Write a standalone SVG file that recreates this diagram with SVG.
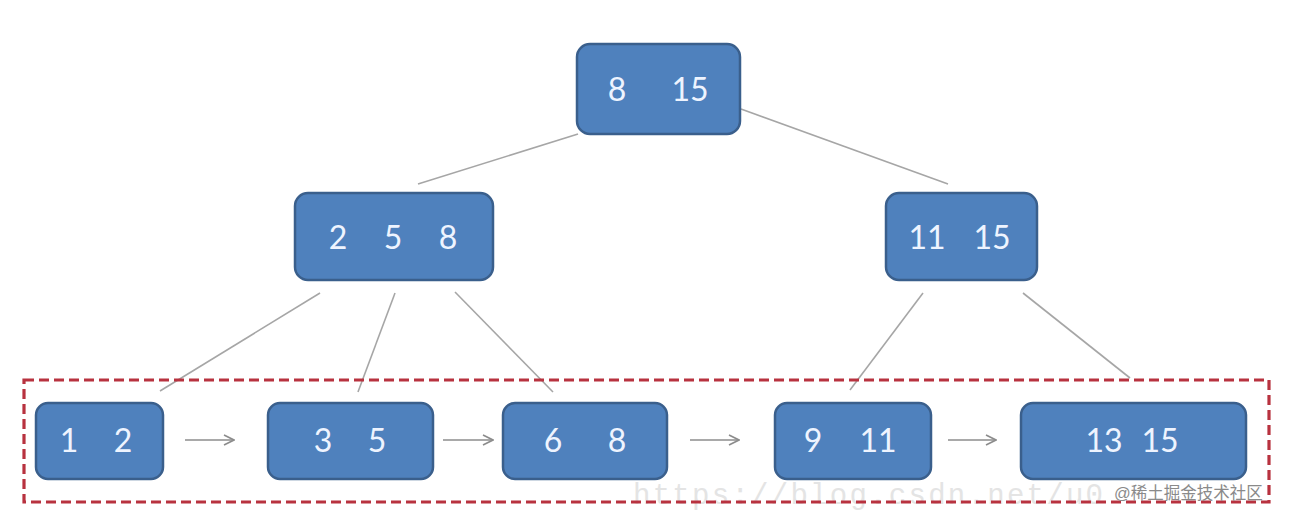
<svg xmlns="http://www.w3.org/2000/svg" width="1292" height="514" viewBox="0 0 1292 514">
<style>
.node{fill:#4f81bd;stroke:#3a5f8c;stroke-width:2.5}
.lbl{font-family:Lato,"Open Sans","Liberation Sans",sans-serif;font-size:32px;fill:#eef4ff;text-anchor:middle}
.edge{stroke:#a6a6a6;stroke-width:1.6;fill:none}
.arrow{stroke:#8c8c8c;stroke-width:1.6;fill:none}
</style>
<defs>
<marker id="ah" viewBox="0 0 12 12" refX="11" refY="6" markerWidth="12" markerHeight="12" markerUnits="userSpaceOnUse" orient="auto">
<path d="M1,1 L11,6 L1,11" fill="none" stroke="#8c8c8c" stroke-width="1.6"/>
</marker>
</defs>
<rect width="1292" height="514" fill="#ffffff"/>
<text x="633" y="504" font-family="'Liberation Mono',monospace" font-size="29" fill="#e4e4e4" textLength="470">https://blog.csdn.net/u0</text>
<g id="connectors">
<line class="edge" x1="578" y1="134" x2="418" y2="184"/>
<line class="edge" x1="741" y1="109" x2="948" y2="184"/>
<line class="edge" x1="320" y1="293" x2="160" y2="391"/>
<line class="edge" x1="395" y1="293" x2="358" y2="392"/>
<line class="edge" x1="455" y1="292" x2="553" y2="392"/>
<line class="edge" x1="923" y1="293" x2="850" y2="390"/>
<line class="edge" x1="1023" y1="293" x2="1130" y2="378"/>
<line class="arrow" x1="185" y1="440" x2="234" y2="440" marker-end="url(#ah)"/>
<line class="arrow" x1="443" y1="440" x2="493" y2="440" marker-end="url(#ah)"/>
<line class="arrow" x1="690" y1="440" x2="739" y2="440" marker-end="url(#ah)"/>
<line class="arrow" x1="948" y1="440" x2="996" y2="440" marker-end="url(#ah)"/>
</g>
<rect id="leaf-box" x="24" y="380" width="1245" height="122" fill="none" stroke="#b8323f" stroke-width="3.2" stroke-dasharray="10,5"/>
<g id="root"><rect class="node" x="577" y="44" width="163" height="90" rx="13"/><text class="lbl" x="617" y="101">8</text><text class="lbl" x="690" y="101">15</text></g>
<g id="mid-left"><rect class="node" x="295" y="193" width="198" height="87" rx="13"/><text class="lbl" x="338" y="249">2</text><text class="lbl" x="393" y="249">5</text><text class="lbl" x="448" y="249">8</text></g>
<g id="mid-right"><rect class="node" x="886" y="193" width="151" height="87" rx="13"/><text class="lbl" x="927" y="249">11</text><text class="lbl" x="992" y="249">15</text></g>
<g id="leaf1"><rect class="node" x="36" y="403" width="127" height="76" rx="12"/><text class="lbl" x="69" y="452">1</text><text class="lbl" x="123" y="452">2</text></g>
<g id="leaf2"><rect class="node" x="268" y="403" width="165" height="76" rx="12"/><text class="lbl" x="323" y="452">3</text><text class="lbl" x="377" y="452">5</text></g>
<g id="leaf3"><rect class="node" x="503" y="403" width="164" height="76" rx="12"/><text class="lbl" x="553" y="452">6</text><text class="lbl" x="617" y="452">8</text></g>
<g id="leaf4"><rect class="node" x="775" y="403" width="156" height="76" rx="12"/><text class="lbl" x="813" y="452">9</text><text class="lbl" x="878" y="452">11</text></g>
<g id="leaf5"><rect class="node" x="1021" y="403" width="225" height="76" rx="12"/><text class="lbl" x="1104" y="452">13</text><text class="lbl" x="1160" y="452">15</text></g>
<text x="1114" y="499" font-family="'Liberation Sans','Noto Sans CJK SC',sans-serif" font-size="16.5" fill="#8a8a8a">@稀土掘金技术社区</text>
</svg>
